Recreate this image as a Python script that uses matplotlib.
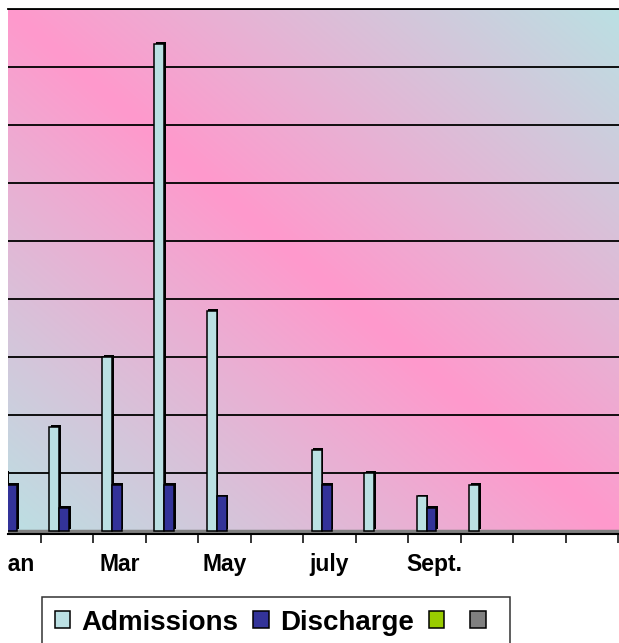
import numpy as np
import matplotlib.pyplot as plt
import matplotlib.patheffects as pe
from matplotlib.patches import Patch
from matplotlib.transforms import Bbox, TransformedBbox

plt.rcParams['font.family'] = ['Liberation Sans', 'DejaVu Sans']

# monthly figures (grid step = 10)
months = ['Jan', 'Feb', 'Mar', 'Apr', 'May', 'June', 'july', 'Aug', 'Sept.', 'Oct', 'Nov', 'Dec']
month_labels = ['Jan', '', 'Mar', '', 'May', '', 'july', '', 'Sept.', '', '', '']
admissions = [10, 18, 30, 84, 38, 0, 14, 10, 6, 8, 0, 0]
discharge = [8, 4, 8, 8, 6, 0, 8, 0, 4, 0, 0, 0]
series3 = [0] * 12
series4 = [0] * 12
series_names = ['Admissions', 'Discharge', '', '']
series_colors = ['#BBE0E3', '#333399', '#99CC00', '#808080']

pink = np.array([255, 153, 204]) / 255
cyan = np.array([187, 224, 227]) / 255

fig = plt.figure(figsize=(6.19, 6.43), dpi=100)
ax = fig.add_axes([8/619, 109/643, 611/619, 525/643])

# diagonal two colour background
u, v = np.meshgrid(np.linspace(0, 1, 300), np.linspace(0, 1, 300))
s = np.clip(np.abs(u - v), 0, 1)[..., None]
bg = pink * (1 - s) + cyan * s
ax.imshow(bg, extent=(0, 1, 0, 1), transform=ax.transAxes, aspect='auto',
          origin='upper', zorder=0)

# grey floor under the bars
ax.axhline(0, color='#808080', lw=2.5, zorder=1.5)

x = np.arange(len(months))
width = 0.19
offsets = [-0.245, -0.055, 0.135, 0.325]
shadow = [pe.SimplePatchShadow(offset=(1.2, 1.2), shadow_rgbFace='black', alpha=1), pe.Normal()]
for vals, off, col in zip([admissions, discharge, series3, series4], offsets, series_colors):
    vals = np.array(vals, dtype=float)
    vals[vals <= 0] = np.nan   # empty months draw nothing
    ax.bar(x + off, vals, width, color=col, edgecolor='black', linewidth=1.1,
           zorder=3, path_effects=shadow)

ax.set_xlim(-0.13, 11.52)
ax.set_ylim(-0.5, 90)
ax.set_yticks(np.arange(10, 91, 10))
ax.yaxis.grid(True, color='black', lw=1.3)
for line in ax.get_ygridlines():
    line.set_zorder(1)
ax.tick_params(axis='y', left=False, labelleft=False)

ax.set_xticks(np.append(x[:-1] + 0.5, 11.5))
ax.set_xticklabels([])
ax.tick_params(axis='x', which='major', direction='out', length=6.5, width=1.1, color='black')
ax.set_xticks(x, minor=True)
ax.set_xticklabels(month_labels, minor=True, fontsize=16.5, fontweight='bold')
ax.tick_params(axis='x', which='minor', length=0, pad=14)

# the chart area is cut at its left edge, like the original
clip = TransformedBbox(Bbox([[8/619, 0], [1, 1]]), fig.transFigure)
for lab in ax.xaxis.get_minorticklabels():
    lab.set_clip_box(clip)
    lab.set_clip_on(True)

for side in ['left', 'right']:
    ax.spines[side].set_visible(False)
ax.spines['top'].set_color('black')
ax.spines['top'].set_linewidth(1.3)
ax.spines['bottom'].set_color('black')
ax.spines['bottom'].set_linewidth(1.5)

handles = [Patch(facecolor=c, edgecolor='black', linewidth=1.1) for c in series_colors]
leg = fig.legend(handles, series_names, loc='upper left', bbox_to_anchor=(42/619, 1 - 597/643),
                 ncol=4, frameon=True, fancybox=False, borderaxespad=0, borderpad=0.45,
                 handlelength=0.56, handleheight=0.56, handletextpad=0.42, columnspacing=0.52,
                 prop={'size': 20, 'weight': 'bold'})
leg.get_frame().set_edgecolor('black')
leg.get_frame().set_linewidth(1.1)

fig.savefig('out.png', dpi=100)
